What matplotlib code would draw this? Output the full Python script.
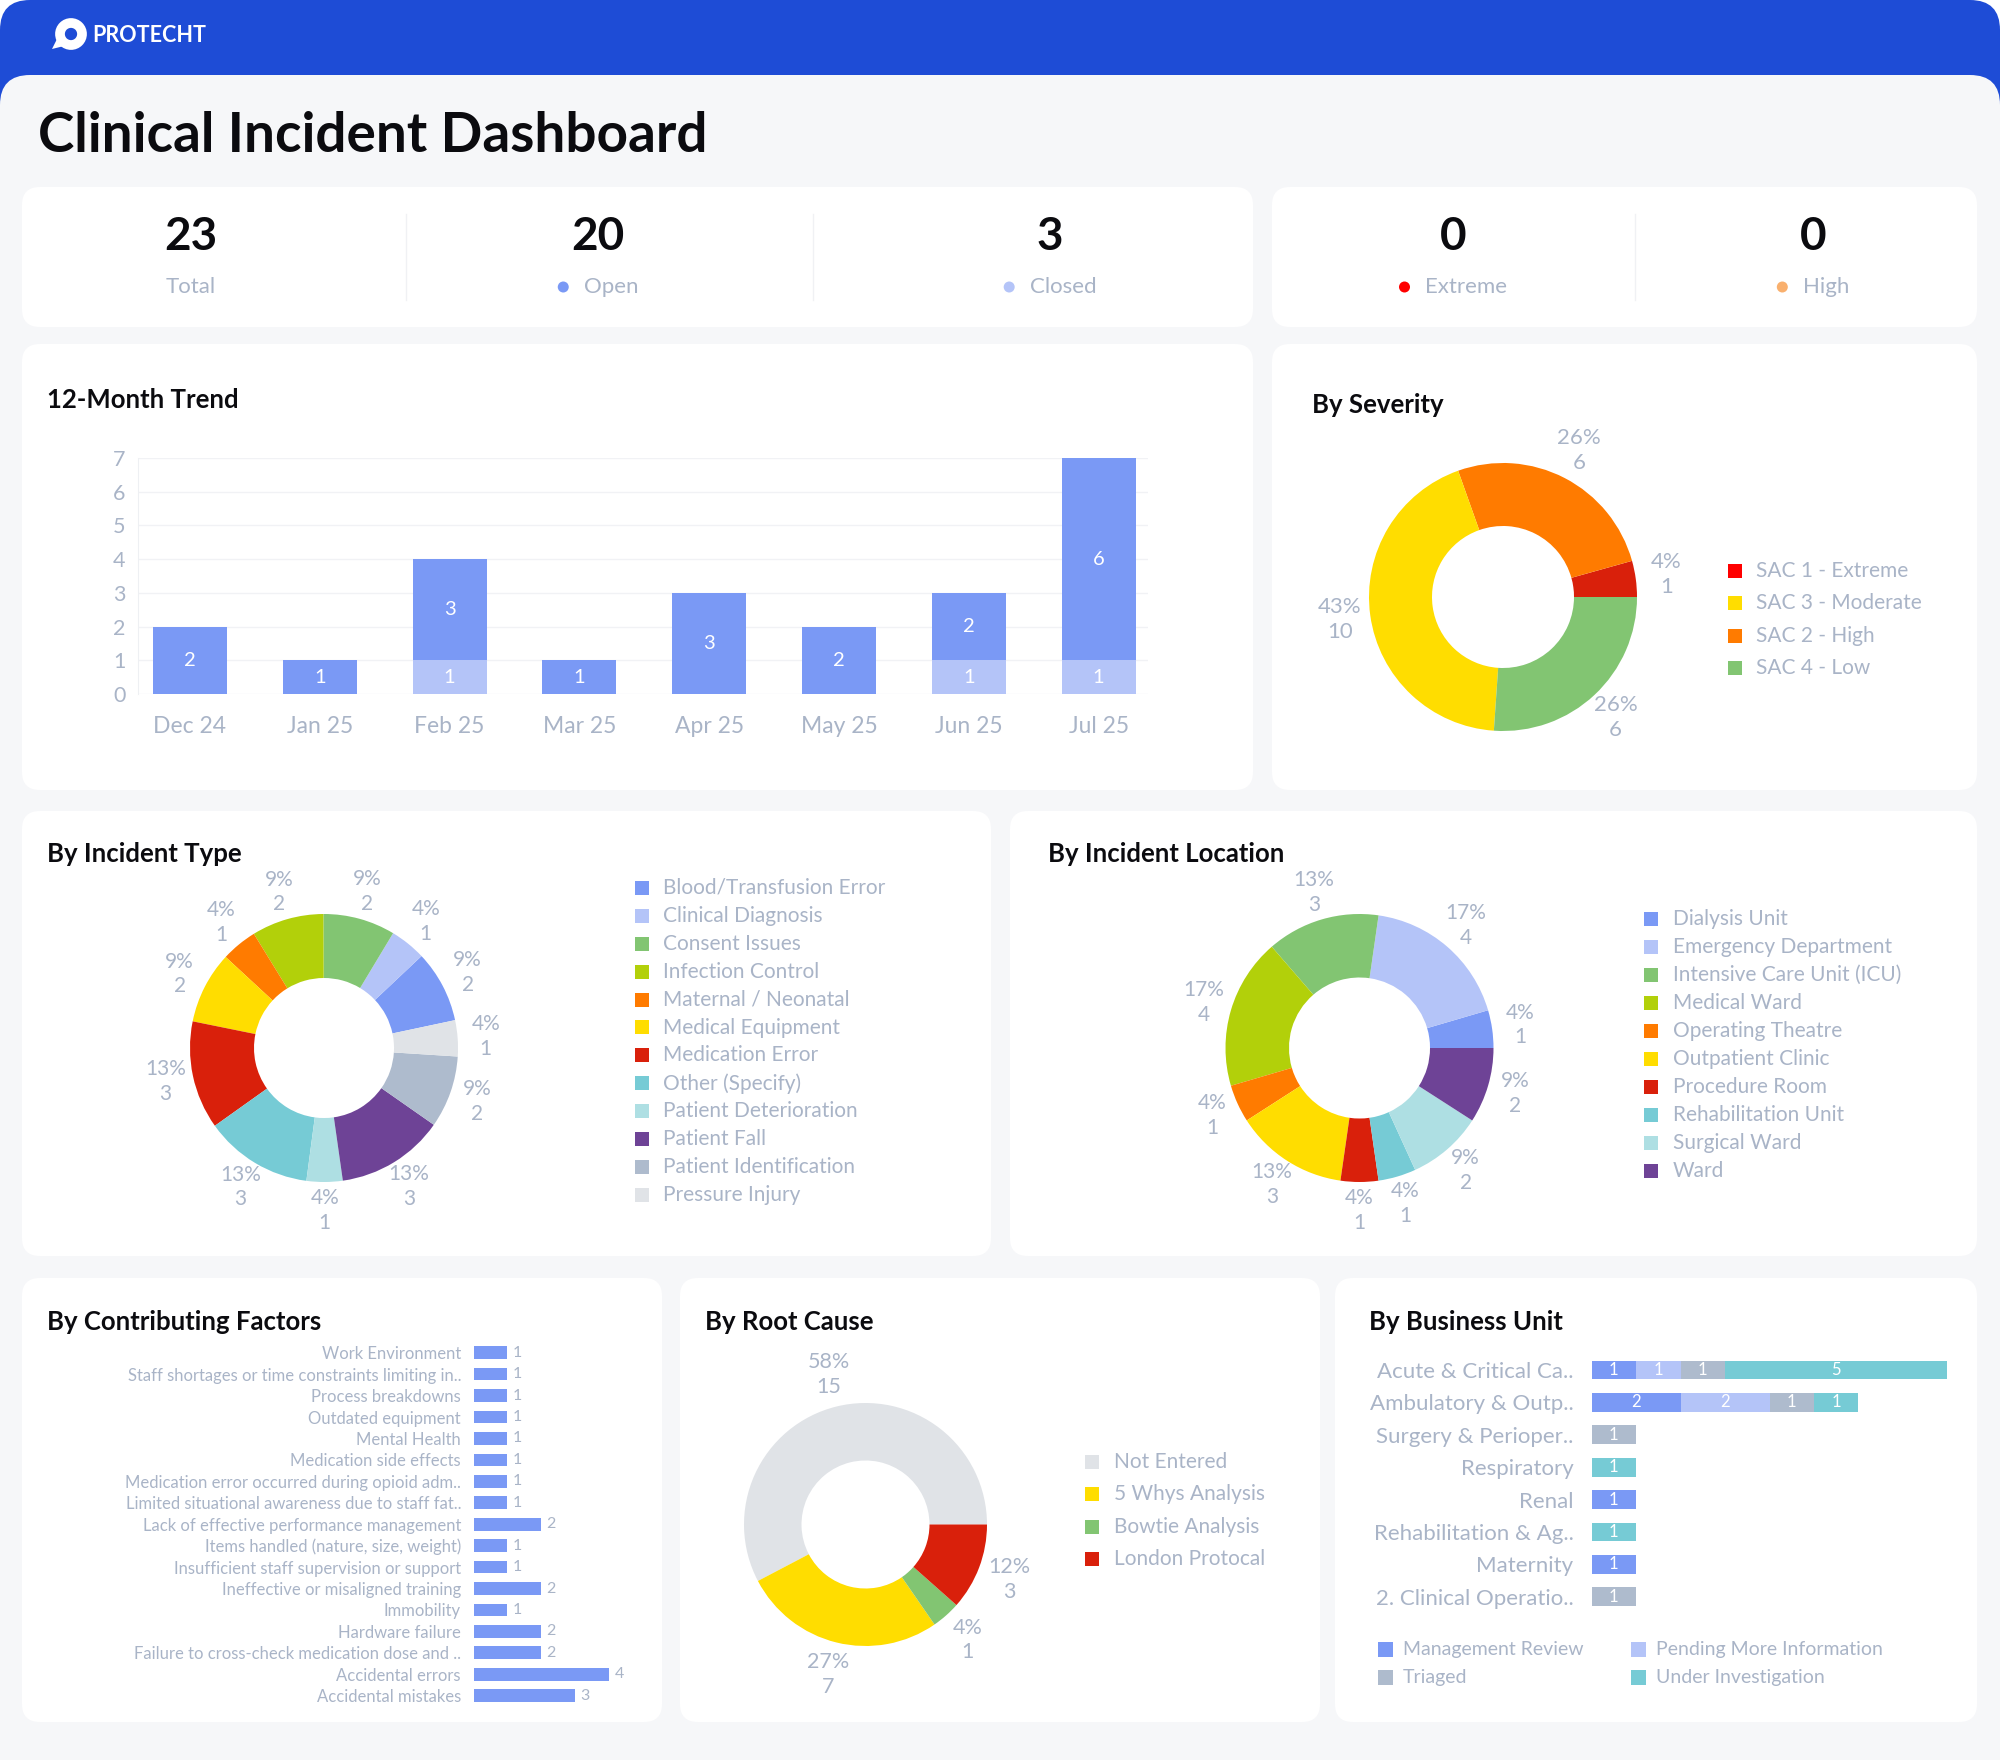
import matplotlib
matplotlib.use('Agg')
import matplotlib.pyplot as plt
from matplotlib.patches import FancyBboxPatch, Rectangle, Circle, Polygon
import numpy as np

plt.rcParams['font.family'] = ['Lato', 'DejaVu Sans']

W, H = 2000, 1760

# ---- data ----
kpi_labels = ['Total', 'Open', 'Closed', 'Extreme', 'High']
kpi_values = [23, 20, 3, 0, 0]

months = ['Dec 24', 'Jan 25', 'Feb 25', 'Mar 25', 'Apr 25', 'May 25', 'Jun 25', 'Jul 25']
trend_closed = [0, 0, 1, 0, 0, 0, 1, 1]
trend_open = [2, 1, 3, 1, 3, 2, 2, 6]

total_incidents = 23

severity_labels = ['SAC 1 - Extreme', 'SAC 2 - High', 'SAC 3 - Moderate', 'SAC 4 - Low']
severity_values = [1, 6, 10, 6]
severity_legend = ['SAC 1 - Extreme', 'SAC 3 - Moderate', 'SAC 2 - High', 'SAC 4 - Low']

type_labels = ['Blood/Transfusion Error', 'Clinical Diagnosis', 'Consent Issues', 'Infection Control',
               'Maternal / Neonatal', 'Medical Equipment', 'Medication Error', 'Other (Specify)',
               'Patient Deterioration', 'Patient Fall', 'Patient Identification', 'Pressure Injury']
type_values = [2, 1, 2, 2, 1, 2, 3, 3, 1, 3, 2, 1]

location_labels = ['Dialysis Unit', 'Emergency Department', 'Intensive Care Unit (ICU)', 'Medical Ward',
                   'Operating Theatre', 'Outpatient Clinic', 'Procedure Room', 'Rehabilitation Unit',
                   'Surgical Ward', 'Ward']
location_values = [1, 4, 3, 4, 1, 3, 1, 1, 2, 2]

cf_labels = ['Work Environment', 'Staff shortages or time constraints limiting in..', 'Process breakdowns',
             'Outdated equipment', 'Mental Health', 'Medication side effects',
             'Medication error occurred during opioid adm..', 'Limited situational awareness due to staff fat..',
             'Lack of effective performance management', 'Items handled (nature, size, weight)',
             'Insufficient staff supervision or support', 'Ineffective or misaligned training', 'Immobility',
             'Hardware failure', 'Failure to cross-check medication dose and ..', 'Accidental errors',
             'Accidental mistakes']
cf_values = [1, 1, 1, 1, 1, 1, 1, 1, 2, 1, 1, 2, 1, 2, 2, 4, 3]

root_labels = ['Not Entered', '5 Whys Analysis', 'Bowtie Analysis', 'London Protocal']
root_values = [15, 7, 1, 3]

bu_labels = ['Acute & Critical Ca..', 'Ambulatory & Outp..', 'Surgery & Perioper..', 'Respiratory', 'Renal',
             'Rehabilitation & Ag..', 'Maternity', '2. Clinical Operatio..']
bu_status = ['Management Review', 'Pending More Information', 'Triaged', 'Under Investigation']
bu_mgmt = [1, 2, 0, 0, 1, 0, 1, 0]
bu_pending = [1, 2, 0, 0, 0, 0, 0, 0]
bu_triaged = [1, 1, 1, 0, 0, 0, 0, 1]
bu_invest = [5, 1, 0, 1, 0, 1, 0, 0]

# ---- colours ----
GRAY = '#A9B4C7'
BLUE = '#7A99F5'
LBLUE = '#B4C4F8'
GREEN = '#82C572'
LIME = '#B2D00A'
ORANGE = '#FF7B00'
YELLOW = '#FFDD00'
RED = '#D9200B'
TEAL = '#76CBD5'
LTEAL = '#AEDFE3'
PURPLE = '#6E4396'
SLATE = '#AEBBCD'
LGRAY = '#E0E3E7'

severity_colors = [RED, ORANGE, YELLOW, GREEN]
severity_legend_colors = ['#FF0000', '#FFDD00', '#FF7B00', GREEN]
type_colors = [BLUE, LBLUE, GREEN, LIME, ORANGE, YELLOW, RED, TEAL, LTEAL, PURPLE, SLATE, LGRAY]
location_colors = [BLUE, LBLUE, GREEN, LIME, ORANGE, YELLOW, RED, TEAL, LTEAL, PURPLE]
root_colors = [LGRAY, YELLOW, GREEN, RED]
bu_colors = [BLUE, LBLUE, SLATE, TEAL]

fig = plt.figure(figsize=(20, 17.6), dpi=100, facecolor='white')
bg = fig.add_axes([0, 0, 1, 1])
bg.set_xlim(0, W)
bg.set_ylim(H, 0)
bg.axis('off')


def px_ax(x0, y0, x1, y1):
    return fig.add_axes([x0 / W, 1 - y1 / H, (x1 - x0) / W, (y1 - y0) / H])


def card(x0, y0, x1, y1):
    bg.add_patch(FancyBboxPatch((x0, y0), x1 - x0, y1 - y0, boxstyle='round,pad=0,rounding_size=18',
                                fc='white', ec='none'))


def legend_rows(x_sq, x_txt, y0, dy, labels, colors, size=14, fs=14):
    for i, (lab, c) in enumerate(zip(labels, colors)):
        y = y0 + i * dy
        bg.add_patch(Rectangle((x_sq, y - size / 2), size, size, fc=c, ec='none'))
        bg.text(x_txt, y, lab, fontsize=fs, color=GRAY, va='center', ha='left')


def donut(cx, cy, r_out, r_in, values, colors, denom, start=0, dist=1.22, fs=14):
    lim = 1.7
    ax = px_ax(cx - r_out * lim, cy - r_out * lim, cx + r_out * lim, cy + r_out * lim)
    wedges, _ = ax.pie(values, colors=colors, startangle=start, counterclock=True, radius=1,
                       wedgeprops=dict(width=1 - r_in / r_out, linewidth=0))
    ax.set_xlim(-lim, lim)
    ax.set_ylim(-lim, lim)
    ax.set_aspect('equal')
    ax.axis('off')
    for w, v in zip(wedges, values):
        a = np.deg2rad((w.theta1 + w.theta2) / 2)
        ax.text(dist * np.cos(a), dist * np.sin(a), f'{round(v / denom * 100)}%\n{v}', ha='center',
                va='center', fontsize=fs, color=GRAY, linespacing=1.3)
    return ax


# header + panel
bg.add_patch(FancyBboxPatch((0, 0), W, 160, boxstyle='round,pad=0,rounding_size=30', fc='#1E4CD6', ec='none'))
bg.add_patch(FancyBboxPatch((0, 75), W, 1750, boxstyle='round,pad=0,rounding_size=30', fc='#F6F7F9', ec='none'))
bg.add_patch(Circle((71, 34), 11, fill=False, lw=7, ec='white'))
bg.add_patch(Polygon([(52, 49), (59, 35), (68, 45)], closed=True, fc='white', ec='none'))
bg.text(92, 35, 'PROTECHT', color='white', fontsize=15.5, fontweight='bold', va='center')
bg.text(38, 136, 'Clinical Incident Dashboard', fontsize=39.5, fontweight='bold', va='center', color='#0B0B0F')

# cards
for box in [(22, 187, 1253, 327), (1272, 187, 1977, 327), (22, 344, 1253, 790), (1272, 344, 1977, 790),
            (22, 811, 991, 1256), (1010, 811, 1977, 1256), (22, 1278, 662, 1722), (680, 1278, 1320, 1722),
            (1335, 1278, 1977, 1722)]:
    card(*box)

# KPI row
kpi_x = [191, 598, 1050, 1453, 1813]
kpi_dots = [None, BLUE, LBLUE, '#FF0000', '#F9B06E']
renderer = fig.canvas.get_renderer()
for x, lab, val, dc in zip(kpi_x, kpi_labels, kpi_values, kpi_dots):
    bg.text(x, 237, str(val), fontsize=33, fontweight='bold', ha='center', va='center', color='#0B0B0F')
    t = bg.text(x, 287, lab, fontsize=16, color=GRAY, ha='left', va='center')
    w = t.get_window_extent(renderer=renderer).width
    if dc is None:
        t.set_position((x - w / 2, 287))
    else:
        left = x - (w + 26) / 2
        bg.add_patch(Circle((left + 5.5, 287), 5.5, fc=dc, ec='none'))
        t.set_position((left + 26, 287))
for dx in [406, 813, 1635]:
    bg.plot([dx, dx], [214, 300], color='#F0F1F4', lw=1)

# card titles
for tx, ty, title in [(47, 400, '12-Month Trend'), (1312, 405, 'By Severity'), (47, 854, 'By Incident Type'),
                      (1048, 854, 'By Incident Location'), (47, 1322, 'By Contributing Factors'),
                      (705, 1322, 'By Root Cause'), (1369, 1322, 'By Business Unit')]:
    bg.text(tx, ty, title, fontsize=18.5, fontweight='bold', va='center', color='#0B0B0F')

# 12-month trend
ax = px_ax(138, 458, 1148, 694)
xs = np.arange(len(months))
ax.bar(xs, trend_closed, width=0.57, color=LBLUE, zorder=3)
ax.bar(xs, trend_open, width=0.57, bottom=trend_closed, color=BLUE, zorder=3)
for i in xs:
    if trend_closed[i]:
        ax.text(i, trend_closed[i] / 2, str(trend_closed[i]), color='white', ha='center', va='center', fontsize=14.5, zorder=4)
    if trend_open[i]:
        ax.text(i, trend_closed[i] + trend_open[i] / 2, str(trend_open[i]), color='white', ha='center',
                va='center', fontsize=14.5, zorder=4)
ax.set_xlim(-0.4, 7.38)
ax.set_ylim(0, 7)
ax.set_yticks(range(8))
ax.set_xticks(xs)
ax.set_xticklabels(months)
ax.grid(axis='y', color='#F1F2F5', lw=1, zorder=0)
for s in ['top', 'right', 'bottom']:
    ax.spines[s].set_visible(False)
ax.spines['left'].set_color('#EEF0F3')
ax.tick_params(axis='y', length=0, pad=9, labelsize=15.5, labelcolor=GRAY)
ax.tick_params(axis='x', length=0, pad=16, labelsize=16.5, labelcolor=GRAY)
ax.set_facecolor('none')

# severity
donut(1503, 597, 134, 71, severity_values, severity_colors, total_incidents, start=0, dist=1.23, fs=16)
legend_rows(1728, 1756, 571, 32.3, severity_legend, severity_legend_colors, fs=15)

# incident type
donut(324, 1048, 134, 70, type_values, type_colors, total_incidents, start=12, dist=1.21, fs=15)
legend_rows(635, 663, 888, 27.9, type_labels, type_colors, fs=15)

# incident location
donut(1359.5, 1048, 134, 70.5, location_values, location_colors, total_incidents, start=0, dist=1.21, fs=15)
legend_rows(1644, 1673, 919, 28, location_labels, location_colors, fs=15)

# contributing factors
ax = px_ax(473.5, 1342, 640, 1706.4)
ys = np.arange(len(cf_labels))
ax.barh(ys, cf_values, height=0.59, color=BLUE)
for y, v in zip(ys, cf_values):
    ax.text(v + 0.15, y, str(v), va='center', ha='left', fontsize=11.5, color=GRAY)
ax.set_ylim(len(cf_labels) - 0.5, -0.5)
ax.set_xlim(0, 4.9)
ax.set_yticks(ys)
ax.set_yticklabels(cf_labels)
ax.set_xticks([])
ax.tick_params(axis='y', length=0, pad=9, labelsize=12, labelcolor=GRAY)
for s in ax.spines.values():
    s.set_visible(False)
ax.set_facecolor('none')

# root cause
donut(865.5, 1524.5, 121.5, 64, root_values, root_colors, sum(root_values), start=0, dist=1.27, fs=15.5)
legend_rows(1085, 1114, 1462, 32.3, root_labels, root_colors, fs=15)

# business unit
ax = px_ax(1591.5, 1353.8, 1947.5, 1613)
ys = np.arange(len(bu_labels))
left = np.zeros(len(bu_labels))
for series, c in zip([bu_mgmt, bu_pending, bu_triaged, bu_invest], bu_colors):
    ax.barh(ys, series, left=left, height=0.58, color=c)
    for y, l, v in zip(ys, left, series):
        if v:
            ax.text(l + v / 2, y, str(v), ha='center', va='center', color='white', fontsize=12)
    left = left + np.array(series)
ax.set_ylim(len(bu_labels) - 0.5, -0.5)
ax.set_xlim(0, 8)
ax.set_yticks(ys)
ax.set_yticklabels(bu_labels)
ax.set_xticks([])
ax.tick_params(axis='y', length=0, pad=13, labelsize=16, labelcolor=GRAY)
for s in ax.spines.values():
    s.set_visible(False)
ax.set_facecolor('none')

for i, (lab, c) in enumerate(zip(bu_status, bu_colors)):
    col, row = i % 2, i // 2
    xs0 = [1378, 1631][col]
    y = [1650, 1678][row]
    bg.add_patch(Rectangle((xs0, y - 7.5), 15, 15, fc=c, ec='none'))
    bg.text(xs0 + 25, y, lab, fontsize=14, color=GRAY, va='center')

fig.savefig('out.png', dpi=100, facecolor='white')
